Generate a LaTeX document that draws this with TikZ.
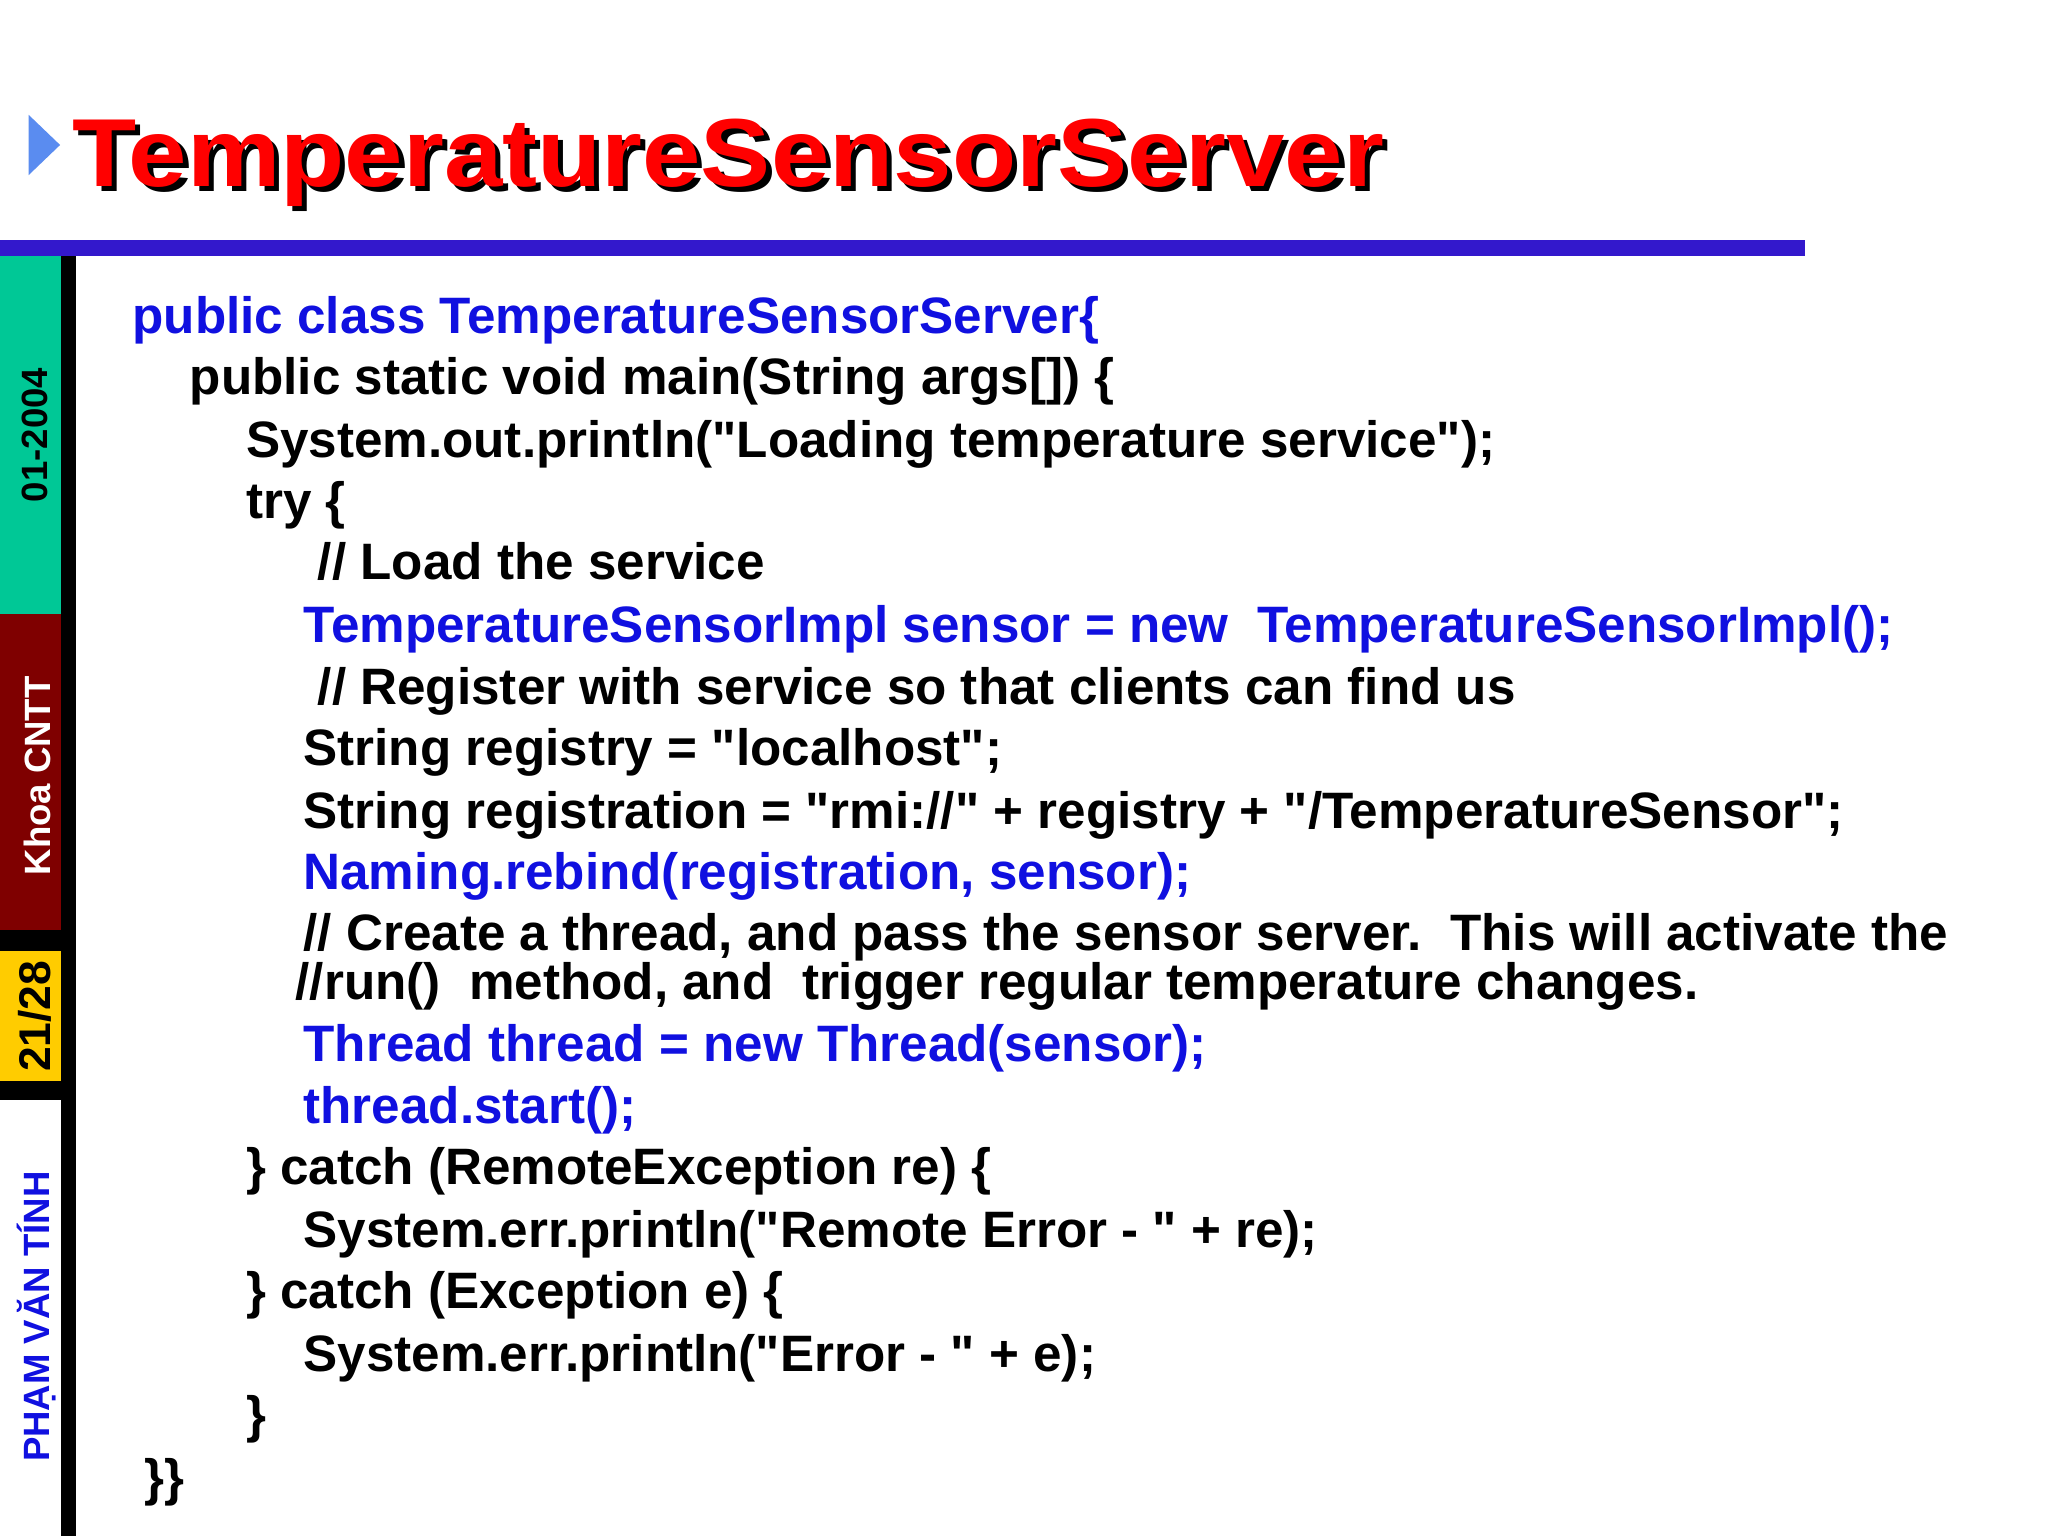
\documentclass[tikz,border=0pt]{standalone}
\usepackage{fontspec}
\setmainfont{Liberation Sans}
\newcommand\dq{\XeTeXglyph\XeTeXcharglyph"0022\relax}
\definecolor{cblue}{HTML}{1010E0}
\definecolor{barblue}{HTML}{3318CC}
\definecolor{sgreen}{HTML}{00C896}
\definecolor{sred}{HTML}{7F0000}
\definecolor{syel}{HTML}{FFCC00}
\definecolor{tblue}{HTML}{5A8CF0}
\begin{document}
\begin{tikzpicture}[x=0.5pt,y=-0.5pt,
  code/.style={anchor=base west,inner sep=0pt,font=\fontsize{19.6}{23}\selectfont\bfseries},
  ttl/.style={anchor=base west,inner sep=0pt,xscale=1.087,font=\fontsize{37}{40}\selectfont\bfseries},
  side/.style={rotate=90,font=\fontsize{14}{16}\selectfont\bfseries,inner sep=0pt}]
\useasboundingbox (0,0) rectangle (1568,1176);
\fill[white] (0,0) rectangle (1568,1176);
% title
\fill[tblue] (22,88) -- (46,111) -- (22,134) -- cycle;
\node[ttl] (shadow) at (59,147) {TemperatureSensorServer};
\node[ttl,text=red] (title) at (55,143) {TemperatureSensorServer};
\fill[barblue] (0,184) rectangle (1382,196);
% sidebar
\fill[black] (47,196) rectangle (58,1176);
\fill[sgreen] (0,196) rectangle (47,470);
\fill[sred] (0,470) rectangle (47,712);
\fill[black] (0,712) rectangle (47,728);
\fill[syel] (0,728) rectangle (47,828);
\fill[black] (0,828) rectangle (47,842);
\node[side] (s1) at (27,333) {01-2004};
\node[side,text=white] (s2) at (29,594) {Khoa CNTT};
\node[side,font=\fontsize{17}{18}\selectfont\bfseries] (s3) at (27,778) {21/28};
\node[side,text=cblue] (s4) at (28,1008) {PHẠM VĂN TÍNH};
% code
\node[code,text=cblue] (l1) at (101,255) {public class TemperatureSensorServer\{};
\node[code] (l2) at (145,302) {public static void main(String args[]) \{};
\node[code] (l3) at (188,350) {System.out.println(\dq Loading temperature service\dq);};
\node[code] (l4) at (188,397) {try \{};
\node[code] (l5) at (243,444) {// Load the service};
\node[code,text=cblue] (l6) at (232,492) {TemperatureSensorImpl sensor = new\ \ TemperatureSensorImpl();};
\node[code] (l7) at (243,539) {// Register with service so that clients can find us};
\node[code] (l8) at (232,586) {String registry = \dq localhost\dq;};
\node[code] (l9) at (232,634) {String registration = \dq rmi://\dq\ + registry + \dq/TemperatureSensor\dq;};
\node[code,text=cblue] (l10) at (232,681) {Naming.rebind(registration, sensor);};
\node[code] (l11) at (232,728) {// Create a thread, and pass the sensor server.\ \ This will activate the};
\node[code] (l12) at (226,765) {//run()\ \ method, and\ \ trigger regular temperature changes.};
\node[code,text=cblue] (l13) at (232,813) {Thread thread = new Thread(sensor);};
\node[code,text=cblue] (l14) at (232,860) {thread.start();};
\node[code] (l15) at (188,907) {\} catch (RemoteException re) \{};
\node[code] (l16) at (232,955) {System.err.println(\dq Remote Error - \dq\ + re);};
\node[code] (l17) at (188,1002) {\} catch (Exception e) \{};
\node[code] (l18) at (232,1050) {System.err.println(\dq Error - \dq\ + e);};
\node[code] (l19) at (188,1097) {\}};
\node[code] (l20) at (110,1145) {\}\}};
\end{tikzpicture}
\end{document}
